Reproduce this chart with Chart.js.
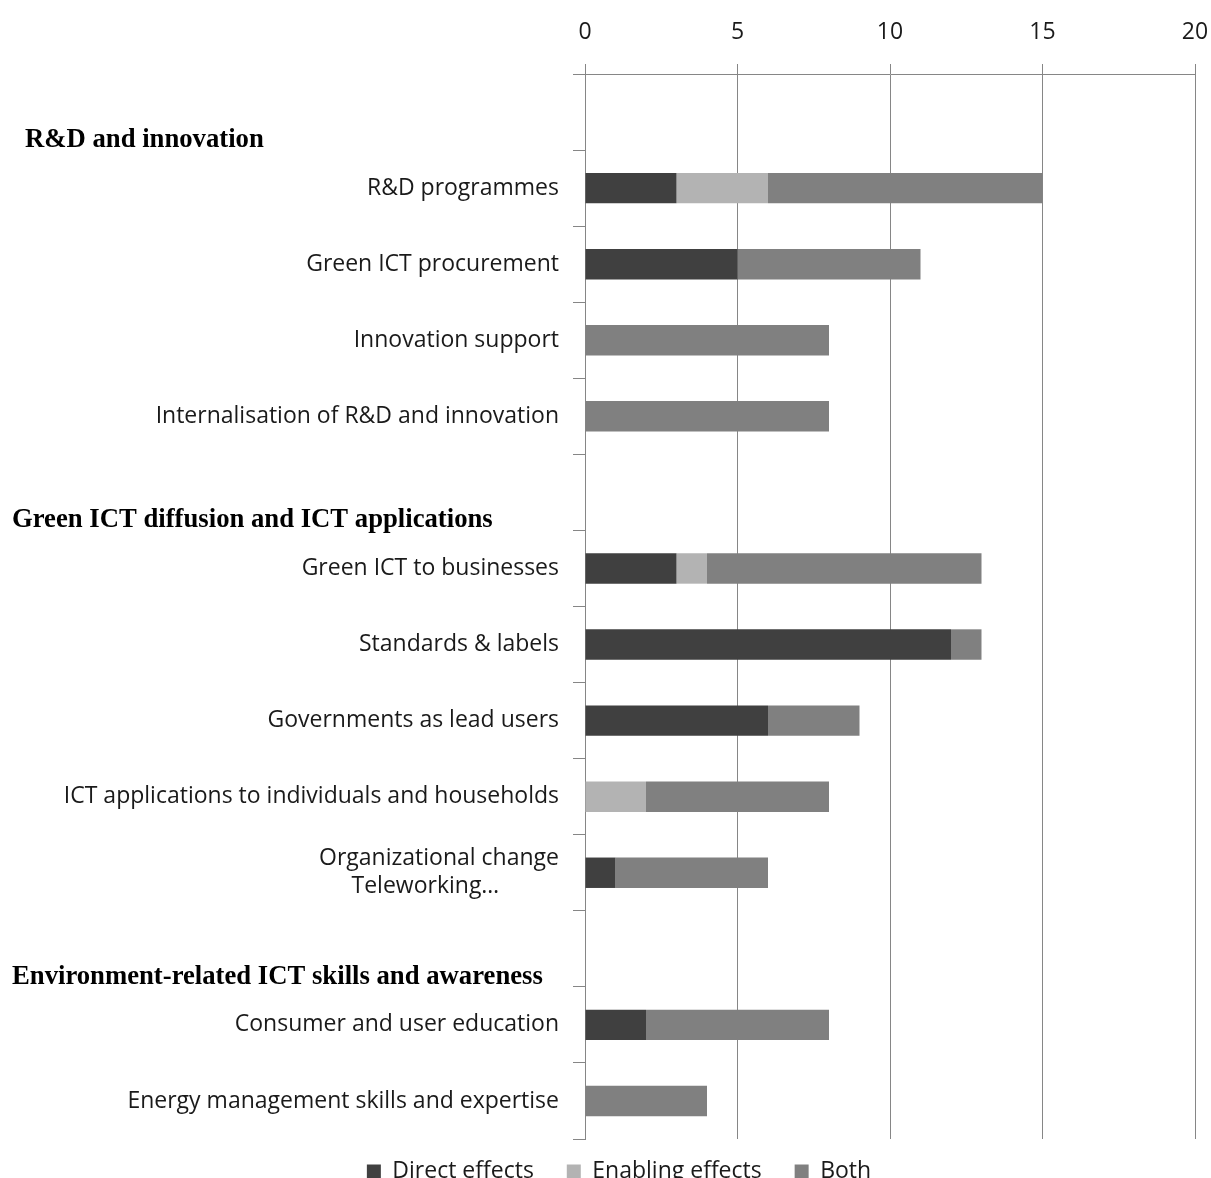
<!DOCTYPE html>
<html>
<head>
<meta charset="utf-8">
<title>Green ICT policy measures</title>
<script src="https://cdn.jsdelivr.net/npm/chart.js@4/dist/chart.umd.min.js"></script>
<style>
  html, body { margin: 0; padding: 0; background: #fff; overflow: hidden; }
  #wrap { width: 1211px; height: 1178px; position: relative; }
</style>
</head>
<body>
<div id="wrap"><canvas id="policyChart"></canvas></div>
<script>
// ===== 数据 =====
const categories = [
  '',
  'R&D programmes',
  'Green ICT procurement',
  'Innovation support',
  'Internalisation of R&D and innovation',
  '',
  'Green ICT to businesses',
  'Standards & labels',
  'Governments as lead users',
  'ICT applications to individuals and households',
  ['Organizational change', 'Teleworking…          '],
  '',
  'Consumer and user education',
  'Energy management skills and expertise'
];
const directEffects   = [null, 3, 5, 0, 0, null, 3, 12, 6, 0, 1, null, 2, 0];
const enablingEffects = [null, 3, 0, 0, 0, null, 1, 0, 0, 2, 0, null, 0, 0];
const bothEffects     = [null, 9, 6, 8, 8, null, 9, 1, 3, 6, 5, null, 6, 4];
const xTicks = [0, 5, 10, 15, 20];

// group headers sit in the empty rows
const groupHeaders = [
  { row: 0,  text: 'R&D and innovation', x: 25 },
  { row: 5,  text: 'Green ICT diffusion and ICT applications', x: 12 },
  { row: 11, text: 'Environment-related ICT skills and awareness', x: 12 }
];

(function() {
  'use strict';

  const GRID = '#868686';
  const LABEL_FONT = '"Open Sans", Lato, sans-serif';

  // 组标题插件
  const headerPlugin = {
    id: 'groupHeaders',
    afterDraw(chart) {
      const ctx = chart.ctx;
      const y = chart.scales.y;
      ctx.save();
      ctx.fillStyle = '#000';
      ctx.font = 'bold 26.7px "Liberation Serif", "Times New Roman", serif';
      ctx.textAlign = 'left';
      ctx.textBaseline = 'middle';
      groupHeaders.forEach(h => {
        ctx.fillText(h.text, h.x, y.getPixelForValue(h.row) + 28);
      });
      ctx.restore();
    }
  };

  const ctx = document.getElementById('policyChart').getContext('2d');
  new Chart(ctx, {
    type: 'bar',
    data: {
      labels: categories,
      datasets: [
        { label: 'Direct effects', data: directEffects, backgroundColor: '#404040' },
        { label: 'Enabling effects', data: enablingEffects, backgroundColor: '#b3b3b3' },
        { label: 'Both', data: bothEffects, backgroundColor: '#808080' }
      ]
    },
    options: {
      indexAxis: 'y',
      responsive: true,
      maintainAspectRatio: false,
      animation: false,
      barPercentage: 0.5,
      categoryPercentage: 0.8,
      layout: { padding: { left: 43, right: 16, top: 0, bottom: -15 } },
      plugins: {
        tooltip: { enabled: false },
        legend: {
          position: 'bottom',
          labels: {
            color: '#1a1a1a',
            font: { family: LABEL_FONT, size: 23 },
            boxWidth: 14,
            boxHeight: 14,
            padding: 21,
            // wider gap between legend items
            generateLabels(chart) {
              const items = Chart.defaults.plugins.legend.labels.generateLabels(chart);
              items.forEach((it, i) => {
                if (i < items.length - 1) it.text = it.text + '  ';
              });
              return items;
            }
          }
        }
      },
      scales: {
        x: {
          position: 'top',
          stacked: true,
          min: 0,
          max: 20,
          afterBuildTicks(scale) {
            scale.ticks = xTicks.map(v => ({ value: v }));
          },
          afterFit(scale) {
            scale.height = 74;
            scale.paddingRight = 0;
          },
          grid: { color: GRID, tickLength: 10, lineWidth: 1 },
          border: { color: GRID },
          ticks: {
            color: '#1a1a1a',
            font: { family: LABEL_FONT, size: 23 },
            padding: 18
          }
        },
        y: {
          stacked: true,
          afterFit(scale) { scale.width = 542; },
          grid: { drawOnChartArea: false, color: GRID, tickLength: 12 },
          border: { color: GRID },
          ticks: {
            color: '#1a1a1a',
            font: { family: LABEL_FONT, size: 23 },
            padding: 14,
            autoSkip: false
          }
        }
      }
    },
    plugins: [headerPlugin]
  });
})();
</script>
</body>
</html>
